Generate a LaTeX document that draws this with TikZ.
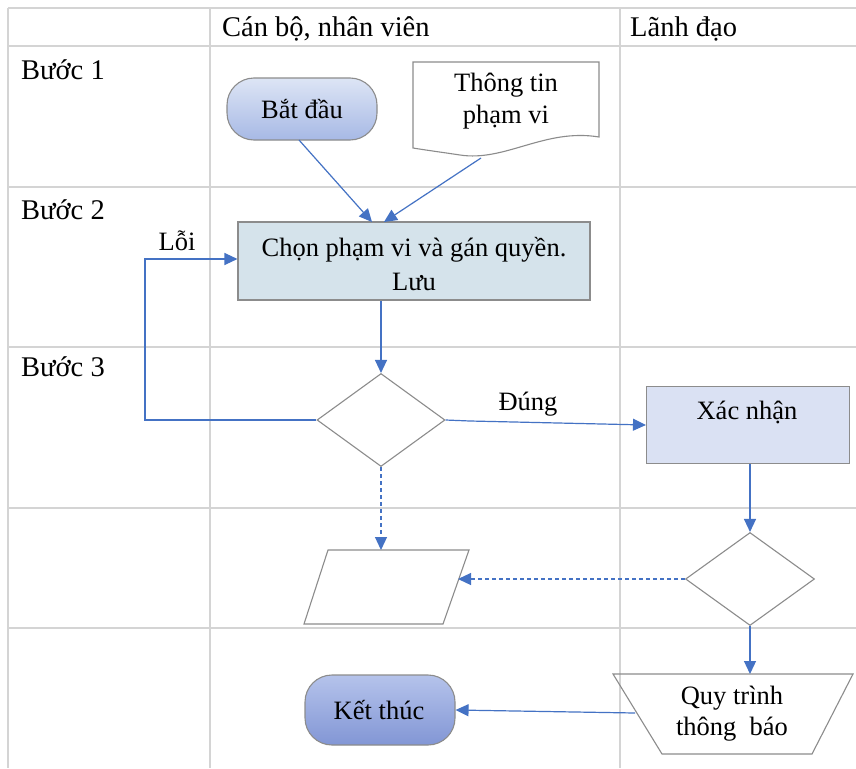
\documentclass[tikz,border=0pt]{standalone}
\usepackage{fontspec}
\setmainfont{Liberation Serif}
\usetikzlibrary{shapes.geometric,arrows.meta,calc}
\definecolor{connblue}{HTML}{4472C4}
\definecolor{gridgray}{HTML}{D4D4D4}
\definecolor{edgegray}{HTML}{8C8C8C}
\definecolor{chonfill}{HTML}{D5E3EB}
\definecolor{xacfill}{HTML}{DAE1F3}
\definecolor{bdtop}{HTML}{DDE5F5}
\definecolor{bdbottom}{HTML}{A7B9E5}
\definecolor{kttop}{HTML}{B5C3EB}
\definecolor{ktbottom}{HTML}{8296D5}
\tikzset{
  gridline/.style={draw=gridgray,line width=1.3pt},
  conn/.style={draw=connblue,line width=1.2pt,-{Triangle[length=13pt,width=12pt]}},
  dconn/.style={conn,dash pattern=on 4pt off 3pt},
  shapeedge/.style={draw=edgegray,line width=1.1pt},
  txt/.style={font=\fontsize{26.5}{31}\selectfont,inner sep=0pt,align=center},
  hdr/.style={font=\fontsize{28.5}{33}\selectfont,inner sep=0pt,anchor=west},
  term/.style={shapeedge,rounded corners=27pt,minimum width=150pt,inner sep=0pt},
  decision/.style={shapeedge,diamond,inner sep=0pt,minimum width=128pt,minimum height=93pt},
  procbox/.style={shapeedge,rectangle,inner sep=0pt},
  anchorbox/.style={rectangle,inner sep=0pt,draw=none}
}
\begin{document}
\begin{tikzpicture}[x=1pt,y=-1pt]
\useasboundingbox (0,0) rectangle (856,768);
\fill[white] (0,0) rectangle (856,768);
% grid
\foreach \yy in {8,46,187,347,508,628} \draw[gridline] (8,\yy) -- (856,\yy);
\foreach \xx in {8,210,620} \draw[gridline] (\xx,8) -- (\xx,768);
% headers
\node[hdr] (hcb) at (222,29) {Cán bộ, nhân viên};
\node[hdr] (hld) at (630,29) {Lãnh đạo};
\node[hdr] (b1) at (21,70) {Bước 1};
\node[hdr] (b2) at (21,210) {Bước 2};
\node[hdr] (b3) at (21,367) {Bước 3};
% start
\node[term,minimum height=62pt,top color=bdtop,bottom color=bdbottom] at (302,109) (batdau) {};
\node[txt] at (302,109) (batdautxt) {Bắt đầu};
% document
\draw[shapeedge,fill=white] (413,62) -- (599,62) -- (599,137)
  .. controls (545,128) and (505,162) .. (460,155)
  .. controls (440,152) and (425,150) .. (413,148) -- cycle;
\node[txt,font=\fontsize{26.5}{32}\selectfont] at (506,101) (thongtin) {Thông tin\\phạm vi};
\coordinate (ttbot) at (481,158);
\coordinate (bdbot) at (299,140);
% process box
\node[procbox,fill=chonfill,minimum width=352pt,minimum height=78pt] at (414,261) (chon) {};
\node[txt,font=\fontsize{26.5}{34}\selectfont] at (414,264) (chontxt) {Chọn phạm vi và gán quyền.\\Lưu};
\coordinate (chonin1) at (372,222);
\coordinate (chonin2) at (384,222);
% decision 1
\node[decision] at (381,420) (d1) {};
% confirm box
\node[procbox,fill=xacfill,minimum width=203pt,minimum height=77pt] at (748,425) (xacnhan) {};
\node[txt] at (747,412) (xactxt) {Xác nhận};
% decision 2
\node[decision,minimum width=129pt] at (750,579) (d2) {};
% parallelogram
\draw[shapeedge] (328,550) -- (469,550) -- (443,624) -- (304,624) -- cycle;
\node[anchorbox,minimum width=140pt,minimum height=74pt] at (386,587) (para) {};
\coordinate (paratop) at (381,550);
\coordinate (pararight) at (458,579);
% trapezoid (manual operation)
\draw[shapeedge] (613,674) -- (853,674) -- (812,754) -- (662,754) -- cycle;
\node[txt] at (732,714) (trap) {Quy trình\\thông\ \ báo};
\coordinate (traptop) at (749,674);
\coordinate (trapleft) at (635,713);
% end
\node[term,minimum height=70pt,top color=kttop,bottom color=ktbottom] at (380,710) (ketthuc) {};
\node[txt] at (379,710) (ketthuctxt) {Kết thúc};
% labels
\node[txt] at (177,241) (loi) {Lỗi};
\node[txt] at (528,404) (dung) {Đúng};
% connectors
\draw[conn] (bdbot) -- (chonin1);
\draw[conn] (ttbot) -- (chonin2);
\draw[conn] (chon.south -| d1.north) -- (d1.north);
\draw[conn] (d1.west) -- (145,420) -- (145,259) -- (chon.west |- 0,259);
\draw[conn] (d1.east) -- (470,421) -- (xacnhan.west);
\draw[conn] (xacnhan.south -| d2.north) -- (d2.north);
\draw[dconn] (d1.south) -- (paratop);
\draw[dconn] (d2.west) -- (pararight);
\draw[conn] (d2.south) -- (d2.south |- traptop);
\draw[conn] (trapleft) -- (ketthuc.east);
\end{tikzpicture}
\end{document}
